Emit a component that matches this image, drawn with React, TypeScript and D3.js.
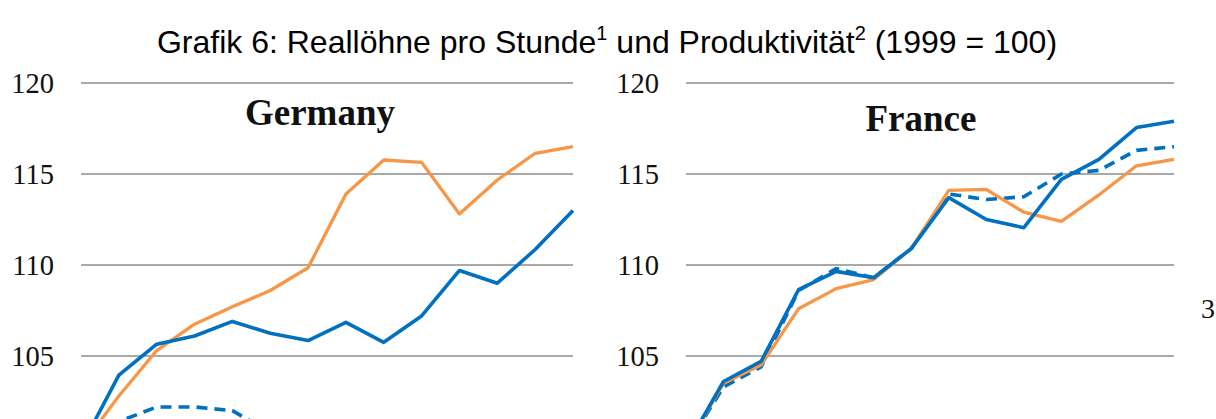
import React from "react";
import * as d3 from "d3";

const years = [1999, 2000, 2001, 2002, 2003, 2004, 2005, 2006, 2007, 2008, 2009, 2010, 2011, 2012];
const yTicks = [105, 110, 115, 120];

// Germany
const deProductivity = [100, 102.8, 105.3, 106.75, 107.7, 108.6, 109.85, 113.9, 115.77, 115.64, 112.8, 114.67, 116.14, 116.5];
const deWageDeflator = [100, 103.95, 105.65, 106.1, 106.9, 106.25, 105.85, 106.85, 105.75, 107.2, 109.7, 109.0, 110.85, 113.0];
const deWageCPI = [100, 101.4, 102.2, 102.2, 102.0, 100.8, 100.2, 100.4, 99.8, 100.2, 101.0, 100.6, 100.9, 101.2];

// France
const frProductivity = [100, 103.5, 104.5, 107.6, 108.7, 109.2, 110.9, 114.1, 114.15, 112.9, 112.4, 113.85, 115.45, 115.8];
const frWageDeflator = [100, 103.6, 104.7, 108.65, 109.65, 109.3, 110.9, 113.7, 112.5, 112.05, 114.7, 115.8, 117.55, 117.9];
const frWageCPI = [100, 103.3, 104.4, 108.6, 109.8, 109.3, 110.9, 113.9, 113.6, 113.75, 115.0, 115.2, 116.3, 116.5];

const BLUE = "#0070C0";
const ORANGE = "#F79646";

type PanelProps = {
  title: string;
  x0: number;
  x1: number;
  titleX: number;
  titleY: number;
  prod: number[];
  wDef: number[];
  wCpi: number[];
};

const yScale = d3.scaleLinear().domain([105, 120]).range([356, 83]);

function Panel({ title, x0, x1, titleX, titleY, prod, wDef, wCpi }: PanelProps) {
  const x = d3.scalePoint<number>().domain(years).range([x0, x1]);
  const line = d3
    .line<number>()
    .x((_, i) => x(years[i]) as number)
    .y((d) => yScale(d));
  return (
    <g>
      {yTicks.map((t) => (
        <g key={t}>
          <line x1={x0} x2={x1} y1={yScale(t)} y2={yScale(t)} stroke="#8c8c8c" strokeWidth={1.3} />
          <text
            x={x0 - 27}
            y={yScale(t) + 10}
            textAnchor="end"
            fontFamily="'Liberation Serif', serif"
            fontSize={28.5}
            fill="#111"
          >
            {t}
          </text>
        </g>
      ))}
      <text
        x={titleX}
        y={titleY}
        textAnchor="middle"
        fontFamily="'Liberation Serif', serif"
        fontWeight="bold"
        fontSize={37}
        fill="#111"
      >
        {title}
      </text>
      <path d={line(wCpi) || ""} fill="none" stroke={BLUE} strokeWidth={3.6} strokeDasharray="11,7" strokeLinejoin="round" />
      <path d={line(prod) || ""} fill="none" stroke={ORANGE} strokeWidth={3.3} strokeLinejoin="round" />
      <path d={line(wDef) || ""} fill="none" stroke={BLUE} strokeWidth={3.6} strokeLinejoin="round" />
    </g>
  );
}

export default function App() {
  return (
    <svg
      width={1216}
      height={419}
      style={{ position: "fixed", left: 0, top: 0, background: "#fff" }}
    >
      <rect x={0} y={0} width={1216} height={419} fill="#fff" />
      <text
        x={607}
        y={53}
        textAnchor="middle"
        fontFamily="'Liberation Sans', Arial, sans-serif"
        fontSize={32}
        fill="#000"
      >
        <tspan>Grafik 6: Reallöhne pro Stunde</tspan>
        <tspan dy={-13} fontSize={20}>1</tspan>
        <tspan dy={13}> und Produktivität</tspan>
        <tspan dy={-13} fontSize={20}>2</tspan>
        <tspan dy={13}> (1999 = 100)</tspan>
      </text>
      <Panel
        title="Germany"
        x0={81}
        x1={573}
        titleX={320}
        titleY={125}
        prod={deProductivity}
        wDef={deWageDeflator}
        wCpi={deWageCPI}
      />
      <Panel
        title="France"
        x0={686}
        x1={1174}
        titleX={921}
        titleY={131}
        prod={frProductivity}
        wDef={frWageDeflator}
        wCpi={frWageCPI}
      />
      <text x={1201} y={318} fontFamily="'Liberation Serif', serif" fontSize={28} fill="#111">
        3
      </text>
    </svg>
  );
}
